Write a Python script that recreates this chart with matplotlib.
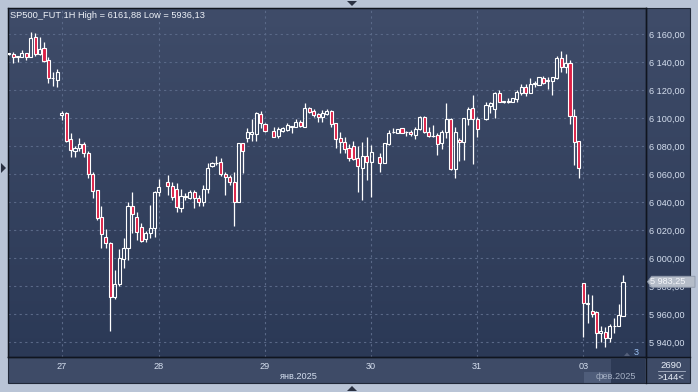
import numpy as np
import matplotlib
matplotlib.use('Agg')
import matplotlib.pyplot as plt
from matplotlib.patches import Rectangle, Polygon
from matplotlib.lines import Line2D
from matplotlib.ticker import FuncFormatter

# hourly candles, one slot per hour, None = no bar (daily break at 01:00)
opens = [6146.2, 6146.0, 6144.0, 6144.0, 6146.4, 6143.6, 6157.9, 6145.9, 6150.0, 6141.6,
         6128.6, 6127.4, 6102.4, 6103.6, 6085.0, 6076.9, 6078.6, 6081.6, 6075.4, 6060.2,
         6048.8, 6029.3, 6015.0, 6010.7, 5972.1, 5981.4, 5999.5, 6007.1, 6037.4, 6029.3,
         6022.1, 6013.6, 6017.9, 6021.4, 6047.1, None, 6054.7, 6051.9, 6049.3, 6035.7,
         6044.0, 6043.3, 6047.1, 6043.3, 6040.4, 6049.5, 6065.9, 6067.9, 6068.6, 6060.2,
         6057.9, 6054.7, 6040.2, 6082.1, 6086.1, 6088.8, 6088.8, 6103.0, 6095.9, None,
         6090.9, 6087.6, 6090.9, 6091.9, 6094.0, 6094.0, 6097.6, 6094.0, 6107.6, 6105.2,
         6102.9, 6101.1, 6103.0, 6105.2, 6096.4, 6085.7, 6082.9, 6078.6, 6080.2, 6071.4,
         6064.3, 6073.1, 6069.0, None, 6072.6, 6068.3, 6081.6, 6090.0, 6089.7, 6092.9,
         6090.4, 6090.4, 6088.1, 6092.1, 6101.1, 6090.0, 6087.4, 6087.9, 6082.6, 6090.4,
         6099.3, 6063.8, 6084.5, 6082.9, 6099.5, 6107.1, 6099.3, None, 6099.3, 6108.8,
         6106.4, 6117.9, 6111.6, 6111.9, 6111.9, 6113.8, 6117.9, 6122.6, 6118.3, 6124.6,
         6123.8, 6128.6, 6126.5, 6126.9, 6128.6, 6142.9, 6136.9, 6139.3, 6101.6, 6083.8,
         5982.1, 5967.9, 5962.6, 5961.9, 5946.4, 5947.1, 5942.9, 5951.4, 5951.9, 5959.0]
highs = [6147.0, 6147.6, 6144.5, 6148.8, 6146.6, 6161.88, 6160.7, 6157.9, 6154.7, 6143.6,
         6132.9, 6135.2, 6105.2, 6104.3, 6089.3, 6080.4, 6085.7, 6082.9, 6076.6, 6061.9,
         6049.0, 6037.4, 6020.9, 6011.9, 5991.6, 6006.6, 6014.3, 6040.4, 6047.6, 6033.1,
         6025.0, 6019.7, 6038.0, 6048.0, 6056.4, None, 6059.5, 6054.7, 6053.6, 6049.3,
         6046.4, 6048.8, 6048.8, 6045.2, 6052.4, 6067.9, 6069.0, 6073.1, 6071.4, 6061.9,
         6059.5, 6061.9, 6082.3, 6082.6, 6092.9, 6099.5, 6104.7, 6105.4, 6096.4, None,
         6094.0, 6094.0, 6094.0, 6096.4, 6094.7, 6099.5, 6099.0, 6110.7, 6108.3, 6106.6,
         6103.6, 6106.0, 6106.6, 6106.0, 6096.9, 6090.4, 6086.9, 6081.4, 6083.8, 6080.0,
         6083.3, 6086.9, 6080.9, None, 6075.0, 6082.3, 6091.6, 6092.9, 6092.3, 6093.4,
         6091.1, 6091.6, 6093.6, 6101.6, 6101.6, 6093.6, 6095.2, 6089.3, 6091.6, 6110.7,
         6100.0, 6094.0, 6085.7, 6100.4, 6107.9, 6116.6, 6101.1, None, 6111.9, 6111.4,
         6119.0, 6120.2, 6112.6, 6114.7, 6114.7, 6120.2, 6124.5, 6124.5, 6128.6, 6126.9,
         6129.5, 6130.2, 6129.3, 6129.8, 6144.5, 6148.1, 6145.9, 6141.6, 6106.6, 6083.8,
         5982.1, 5974.5, 5973.8, 5962.4, 5951.6, 5950.7, 5952.9, 5957.1, 5967.1, 5988.1]
lows = [6145.0, 6139.3, 6140.5, 6143.6, 6141.6, 6143.6, 6144.5, 6145.2, 6140.4, 6125.4,
        6123.3, 6122.1, 6098.8, 6083.3, 6072.1, 6072.6, 6076.6, 6072.6, 6057.1, 6043.3,
        6027.4, 6007.1, 6007.6, 5948.1, 5970.9, 5980.4, 5993.3, 5998.8, 6017.9, 6013.0,
        6011.9, 6011.9, 6014.7, 6015.4, 6044.5, None, 6045.2, 6041.6, 6033.3, 6032.9,
        6041.6, 6042.1, 6036.0, 6037.6, 6037.4, 6046.4, 6065.0, 6066.6, 6059.0, 6045.2,
        6052.4, 6023.3, 6040.0, 6060.7, 6083.3, 6084.0, 6084.0, 6092.9, 6090.0, None,
        6086.4, 6085.7, 6090.4, 6091.1, 6089.3, 6093.6, 6093.6, 6094.0, 6103.6, 6101.1,
        6097.6, 6097.6, 6102.4, 6094.0, 6078.6, 6075.0, 6075.0, 6069.5, 6070.2, 6047.6,
        6042.0, 6055.9, 6044.0, None, 6061.9, 6068.0, 6080.9, 6089.3, 6089.5, 6089.3,
        6087.4, 6087.4, 6085.0, 6091.6, 6089.7, 6086.9, 6086.4, 6073.8, 6077.9, 6085.7,
        6063.1, 6057.1, 6069.7, 6070.2, 6095.2, 6067.4, 6086.9, None, 6098.8, 6103.6,
        6100.0, 6111.4, 6111.0, 6111.1, 6111.4, 6111.9, 6116.6, 6115.9, 6118.3, 6122.6,
        6123.6, 6124.5, 6120.9, 6116.6, 6127.9, 6133.3, 6132.6, 6095.7, 6066.6, 6057.6,
        5944.0, 5954.0, 5958.3, 5936.13, 5940.5, 5936.4, 5940.5, 5946.4, 5951.9, 5959.0]
closes = [6146.4, 6143.6, 6144.3, 6146.4, 6143.6, 6157.1, 6145.9, 6149.3, 6141.0, 6128.6,
          6129.0, 6133.3, 6104.0, 6084.0, 6077.4, 6079.0, 6081.6, 6075.0, 6060.2, 6048.3,
          6028.6, 6017.1, 6010.7, 5972.6, 5981.6, 6000.0, 6007.1, 6037.4, 6031.4, 6018.6,
          6012.6, 6017.9, 6021.4, 6047.4, 6050.7, None, 6051.9, 6044.0, 6036.4, 6044.5,
          6044.3, 6047.1, 6043.3, 6040.4, 6049.5, 6064.3, 6067.9, 6068.2, 6060.2, 6057.9,
          6054.7, 6040.2, 6082.1, 6076.9, 6090.0, 6090.4, 6104.0, 6096.4, 6091.1, None,
          6086.9, 6092.4, 6092.9, 6095.2, 6094.2, 6097.6, 6094.5, 6107.6, 6104.7, 6102.4,
          6101.1, 6103.6, 6105.4, 6095.7, 6085.0, 6082.9, 6078.1, 6071.9, 6070.7, 6065.9,
          6073.1, 6069.0, 6076.1, None, 6068.3, 6082.1, 6089.7, 6090.4, 6092.1, 6089.7,
          6090.1, 6088.8, 6092.1, 6101.1, 6090.4, 6087.6, 6087.1, 6081.6, 6090.2, 6099.3,
          6063.8, 6090.0, 6082.9, 6100.0, 6106.4, 6099.3, 6092.1, None, 6109.5, 6110.7,
          6117.9, 6111.9, 6112.4, 6112.1, 6114.3, 6119.0, 6122.6, 6118.3, 6124.3, 6125.2,
          6129.3, 6125.4, 6127.3, 6129.3, 6142.9, 6136.9, 6139.3, 6101.6, 6083.3, 6064.7,
          5967.9, 5967.4, 5960.2, 5946.4, 5948.1, 5942.9, 5951.6, 5951.9, 5959.3, 5983.25]

day_slots = [12, 34, 58, 82, 106, 130]
day_labels = ['27', '28', '29', '30', '31', '03']
price_ticks = list(range(5940, 6161, 20))
last_price = 5983.25

W, H = 698, 392
FRAME = '#b9c4d6'
TOP_BG = '#3f4c69'
BOT_BG = '#2b3956'
STRIP = '#3e4b67'
TXT = '#d4deee'
RED = '#dc1f45'


def P(x, y):
    # pixel (from top left) -> figure fraction
    return (x / W, 1 - y / H)


def box(x0, y0, x1, y1):
    l, t = P(x0, y0)
    r, b = P(x1, y1)
    return [l, b, r - l, t - b]


def price_fmt(v, pos=None):
    return f"{v:,.2f}".replace(',', ' ').replace('.', ',')


fig = plt.figure(figsize=(W / 100, H / 100), dpi=100)
fig.patch.set_facecolor(FRAME)

# gradient background behind plot and price panel
bg = fig.add_axes(box(8, 8, 690, 357), zorder=-3)
grad = np.linspace(0, 1, 256).reshape(-1, 1)
c0 = np.array(matplotlib.colors.to_rgb(TOP_BG))
c1 = np.array(matplotlib.colors.to_rgb(BOT_BG))
img = c0[None, None, :] * (1 - grad[:, :, None]) + c1[None, None, :] * grad[:, :, None]
bg.imshow(img, aspect='auto', extent=[0, 1, 0, 1])
bg.set_axis_off()

# date strip under the chart
fig.add_artist(Rectangle(P(8, 383), 682 / W, 26 / H, transform=fig.transFigure,
                         facecolor=STRIP, edgecolor='none', zorder=-2))
# month boxes in the strip (drawn under the tick labels)
fig.add_artist(Rectangle(P(584, 383), 61 / W, 11 / H, transform=fig.transFigure,
                         facecolor='#4f5d7a', edgecolor='none', zorder=-1))
fig.add_artist(Rectangle(P(611, 383), 34 / W, 24 / H, transform=fig.transFigure,
                         facecolor='#2d3a55', edgecolor='none', zorder=-1))

ax = fig.add_axes(box(8, 8, 646, 357), zorder=1)
ax.set_facecolor('none')
ax.set_xlim(-0.15, 144.2)
ax.set_ylim(5929.5, 6178.8)

# candles
bw = 0.7
for i in range(len(opens)):
    o, h, l, c = opens[i], highs[i], lows[i], closes[i]
    if o is None:
        continue
    lo, hi = min(o, c), max(o, c)
    ax.vlines(i, hi, h, color='white', linewidth=0.9, zorder=3)
    ax.vlines(i, l, lo, color='white', linewidth=0.9, zorder=3)
    face = RED if c < o else 'none'
    ax.bar(i, max(hi - lo, 0.05), bottom=lo, width=bw, color=face,
           edgecolor='white', linewidth=0.8, zorder=4)

ax.set_yticks(price_ticks)
ax.yaxis.set_major_formatter(FuncFormatter(price_fmt))
ax.yaxis.tick_right()
ax.tick_params(axis='y', length=0, pad=2.2, labelsize=6.6, labelcolor=TXT)
ax.set_xticks(day_slots)
ax.set_xticklabels(day_labels)
ax.tick_params(axis='x', length=0, pad=3.4, labelsize=6.6, labelcolor=TXT)
for lab in ax.get_xticklabels() + ax.get_yticklabels():
    lab.set_family('Liberation Sans')

ax.grid(True, color='#5a6988', linestyle=(0, (2, 3)), linewidth=0.8)
ax.set_axisbelow(True)
for s in ax.spines.values():
    s.set_color('#10151f')
    s.set_linewidth(1)

# separators reaching into the strip / price panel
fig.add_artist(Line2D([646 / W, 646 / W], [P(0, 8)[1], P(0, 383)[1]],
                      transform=fig.transFigure, color='#10151f', linewidth=1))
fig.add_artist(Line2D([8 / W, 690 / W], [P(0, 357)[1]] * 2,
                      transform=fig.transFigure, color='#10151f', linewidth=1))
fig.add_artist(Rectangle(P(8, 383), 682 / W, 375 / H, transform=fig.transFigure,
                         facecolor='none', edgecolor='#202838', linewidth=0.8))

# title
fig.text(*P(10, 15), 'SP500_FUT 1H High = 6161,88 Low = 5936,13', fontsize=6.7,
         color='#eef2f8', va='center', ha='left', family='Liberation Sans')

# month labels
fig.text(*P(299, 376.5), 'янв.2025', fontsize=6.6, color=TXT, ha='center', va='center',
         family='Liberation Sans')
fig.text(*P(615.5, 376.5), 'фев.2025', fontsize=6.6, color='#a4afc3', ha='center',
         va='center', family='Liberation Sans')

# bottom right corner cell
fig.text(*P(671.5, 365), '2690', fontsize=6.8, color='#e8eef8', ha='center', va='center',
         family='Liberation Sans')
fig.add_artist(Line2D([658 / W, 685 / W], [P(0, 370.7)[1]] * 2,
                      transform=fig.transFigure, color='#aab4c6', linewidth=0.6))
fig.text(*P(671.5, 377.5), '>144<', fontsize=6.8, color='#e8eef8', ha='center', va='center',
         family='Liberation Sans')

# last price marker
yl = ax.transData.transform((0, last_price))[1]
yp = H - yl
fig.add_artist(Polygon([P(647.5, yp), P(651.5, yp - 5.5), P(695, yp - 5.5),
                        P(695, yp + 5.5), P(651.5, yp + 5.5)], closed=True,
                       transform=fig.transFigure, facecolor='#b4bcc8',
                       edgecolor='#8c96a8', linewidth=0.6, zorder=5))
fig.text(*P(650.5, yp), price_fmt(last_price),
         fontsize=6.6, color='#f4f6fa', ha='left', va='center', zorder=6,
         family='Liberation Sans')

# small "3" counter at bottom right of chart
fig.add_artist(Polygon([P(624, 356), P(630, 356), P(627, 352.5)], closed=True,
                       transform=fig.transFigure, facecolor='#55607a', edgecolor='none'))
fig.text(*P(636, 352.5), '3', fontsize=6.6, color='#9cc2f4', ha='center', va='center',
         family='Liberation Sans')

# frame scroll arrows
arrow = '#2a3142'
fig.add_artist(Polygon([P(347, 1), P(357, 1), P(352, 6)], closed=True,
                       transform=fig.transFigure, facecolor=arrow, edgecolor='none'))
fig.add_artist(Polygon([P(347, 391), P(357, 391), P(352, 386)], closed=True,
                       transform=fig.transFigure, facecolor=arrow, edgecolor='none'))
fig.add_artist(Polygon([P(1, 163), P(1, 173), P(6, 168)], closed=True,
                       transform=fig.transFigure, facecolor=arrow, edgecolor='none'))

fig.savefig('out.png', dpi=100, facecolor=FRAME)
